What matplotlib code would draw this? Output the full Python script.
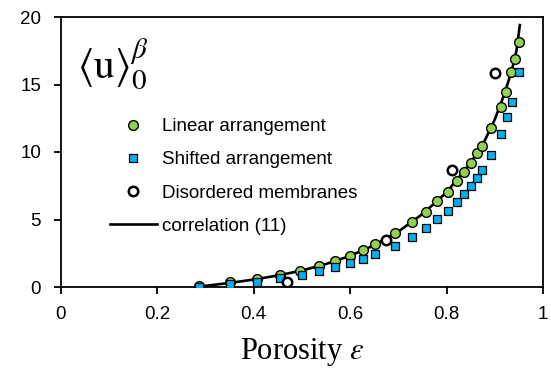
import matplotlib
matplotlib.use("Agg")
import matplotlib.pyplot as plt
from matplotlib.lines import Line2D

plt.rcParams['mathtext.fontset'] = 'stix'

# ---- data ----
lin_x = [0.288, 0.352, 0.407, 0.454, 0.497, 0.535, 0.569, 0.599, 0.626, 0.651,
         0.694, 0.729, 0.757, 0.781, 0.803, 0.821, 0.836, 0.851, 0.863, 0.874,
         0.892, 0.912, 0.923, 0.934, 0.943, 0.950]
lin_y = [0.05, 0.35, 0.6, 0.9, 1.21, 1.56, 1.93, 2.32, 2.74, 3.16,
         3.98, 4.79, 5.58, 6.37, 7.06, 7.85, 8.54, 9.2, 9.9, 10.44,
         11.75, 13.36, 14.47, 15.95, 16.87, 18.17]

shf_x = [0.288, 0.352, 0.407, 0.454, 0.500, 0.535, 0.569, 0.599, 0.626, 0.651,
         0.694, 0.729, 0.757, 0.781, 0.803, 0.821, 0.836, 0.851, 0.863, 0.874,
         0.892, 0.912, 0.925, 0.936, 0.950]
shf_y = [0.02, 0.2, 0.4, 0.65, 0.92, 1.19, 1.46, 1.76, 2.07, 2.42,
         3.06, 3.73, 4.37, 5.01, 5.65, 6.27, 6.89, 7.48, 8.05, 8.67,
         9.78, 11.33, 12.57, 13.73, 15.9]

dis_x = [0.469, 0.674, 0.812, 0.901]
dis_y = [0.39, 3.48, 8.67, 15.83]

corr_x = [0.288, 0.35, 0.40, 0.45, 0.50, 0.55, 0.60, 0.65, 0.70, 0.75,
          0.80, 0.85, 0.88, 0.90, 0.92, 0.935, 0.945, 0.952]
corr_y = [0.03, 0.3, 0.55, 0.85, 1.22, 1.7, 2.3, 3.1, 4.1, 5.4,
          7.0, 9.2, 10.9, 12.4, 14.3, 16.0, 17.5, 19.4]

labels = ["Linear arrangement", "Shifted arrangement",
          "Disordered membranes", "correlation (11)"]
x_ticks = [0, 0.2, 0.4, 0.6, 0.8, 1]
x_ticklabels = ["0", "0.2", "0.4", "0.6", "0.8", "1"]
y_ticks = [0, 5, 10, 15, 20]

GREEN = "#92D050"
BLUE = "#00B0F0"

fig = plt.figure(figsize=(5.51, 3.74), dpi=100)
ax = fig.add_axes([60.5 / 551, 1 - 287 / 374, 482.5 / 551, 270 / 374])

ax.plot(corr_x, corr_y, color="black", lw=1.9, zorder=2)
ax.plot(lin_x, lin_y, ls="none", marker="o", ms=7.0, mfc=GREEN, mec="black",
        mew=1.0, zorder=3)
ax.plot(shf_x, shf_y, ls="none", marker="s", ms=5.3, mfc=BLUE, mec="black",
        mew=0.9, zorder=4)
ax.plot(dis_x, dis_y, ls="none", marker="o", ms=6.8, mfc="white", mec="black",
        mew=1.8, zorder=5)

ax.set_xlim(0, 1)
ax.set_ylim(0, 20)
ax.set_xticks(x_ticks)
ax.set_xticklabels(x_ticklabels)
ax.set_yticks(y_ticks)
for s in ax.spines.values():
    s.set_linewidth(1.3)
    s.set_color("black")
ax.tick_params(direction="out", length=5, width=1.3, colors="black",
               labelsize=13.5)
ax.tick_params(axis="x", pad=9)
ax.tick_params(axis="y", pad=9)
for lab in ax.get_xticklabels() + ax.get_yticklabels():
    lab.set_family("Liberation Sans")

ax.set_xlabel("Porosity $\\varepsilon$", family="Liberation Serif",
              fontsize=22, labelpad=9)

ax.text((77 - 60.5) / 482.5, 0.774,
        r"$\langle\mathrm{u}\rangle_0^{\beta}$", transform=ax.transAxes,
        fontsize=30, ha="left", va="baseline")

handles = [
    Line2D([], [], ls="none", marker="o", ms=7.0, mfc=GREEN, mec="black", mew=1.0),
    Line2D([], [], ls="none", marker="s", ms=5.3, mfc=BLUE, mec="black", mew=0.9),
    Line2D([], [], ls="none", marker="o", ms=6.8, mfc="white", mec="black", mew=1.8),
    Line2D([], [], color="black", lw=1.9),
]
leg = ax.legend(handles, labels, loc="upper left",
                bbox_to_anchor=((110 - 60.5) / 482.5, 0.625),
                frameon=False, borderpad=0, borderaxespad=0,
                handlelength=2.5, handletextpad=0.27, labelspacing=0.85,
                prop={"family": "Liberation Sans", "size": 13.5})

fig.savefig("out.png", dpi=100)
